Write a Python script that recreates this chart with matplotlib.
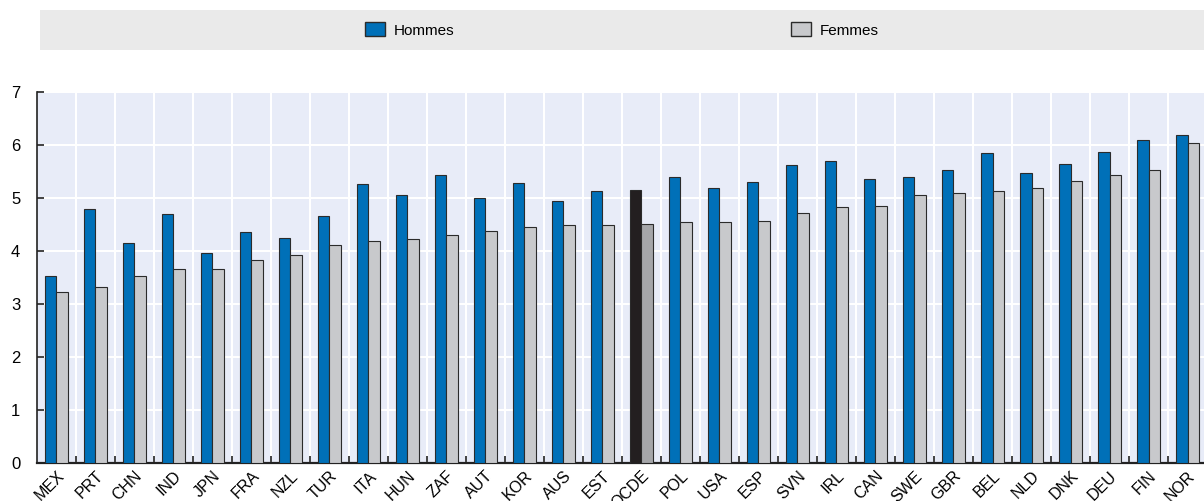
import matplotlib
matplotlib.use("Agg")
import matplotlib.pyplot as plt
from matplotlib.patches import Patch
import numpy as np

plt.rcParams['font.family'] = ['Liberation Sans Narrow', 'Liberation Sans', 'DejaVu Sans']

countries = ["MEX", "PRT", "CHN", "IND", "JPN", "FRA", "NZL", "TUR", "ITA", "HUN",
             "ZAF", "AUT", "KOR", "AUS", "EST", "OCDE", "POL", "USA", "ESP", "SVN",
             "IRL", "CAN", "SWE", "GBR", "BEL", "NLD", "DNK", "DEU", "FIN", "NOR"]
hommes = [3.53, 4.79, 4.14, 4.70, 3.96, 4.36, 4.24, 4.65, 5.26, 5.06,
          5.42, 4.99, 5.27, 4.94, 5.13, 5.14, 5.39, 5.18, 5.30, 5.61,
          5.69, 5.35, 5.39, 5.52, 5.85, 5.47, 5.64, 5.87, 6.08, 6.19]
femmes = [3.22, 3.31, 3.52, 3.65, 3.66, 3.82, 3.91, 4.11, 4.19, 4.23,
          4.30, 4.37, 4.45, 4.48, 4.48, 4.50, 4.55, 4.55, 4.57, 4.72,
          4.83, 4.84, 5.06, 5.08, 5.13, 5.18, 5.32, 5.43, 5.52, 6.03]
yticks = [0, 1, 2, 3, 4, 5, 6, 7]
highlight = "OCDE"

blue = "#0070B8"
grey = "#C8C9CC"
dark = "#231F20"
dark_grey = "#A5A6A9"
edge = "#2B2B2B"

fig = plt.figure(figsize=(12.04, 5.01), dpi=100)
ax = fig.add_axes([0.0307, 0.0764, 0.9718, 0.7405])
ax.set_facecolor("#E8ECF8")

x = np.arange(len(countries))
w = 0.29
c_h = [dark if c == highlight else blue for c in countries]
c_f = [dark_grey if c == highlight else grey for c in countries]
ax.bar(x - w / 2, hommes, w, color=c_h, edgecolor=edge, linewidth=0.8, zorder=3)
ax.bar(x + w / 2, femmes, w, color=c_f, edgecolor=edge, linewidth=0.8, zorder=3)

ax.set_xlim(-0.5, len(countries) - 0.5)
ax.set_ylim(0, 7)
ax.set_yticks(yticks)
ax.set_yticklabels([str(t) for t in yticks], fontsize=12)

# category boundaries as minor ticks, labels on the centers
ax.set_xticks(x)
ax.set_xticklabels(countries, rotation=45, ha="right", va="top",
                   rotation_mode="anchor", fontsize=11.5)
ax.tick_params(axis="x", which="major", length=0, pad=4)
ax.set_xticks(np.arange(0.5, len(countries) - 0.5, 1), minor=True)
ax.tick_params(axis="x", which="minor", direction="in", length=5, width=1.2, color="#222222")
ax.tick_params(axis="y", direction="in", length=5, width=1.2, color="#222222", pad=12)

ax.grid(True, which="minor", axis="x", color="white", linewidth=1.5, zorder=0)
ax.grid(True, which="major", axis="y", color="white", linewidth=1.5, zorder=0)
ax.set_axisbelow(True)

for s in ["top", "right"]:
    ax.spines[s].set_visible(False)
ax.spines["left"].set_color("#222222")
ax.spines["left"].set_linewidth(1.2)
ax.spines["bottom"].set_color("#222222")
ax.spines["bottom"].set_linewidth(1.6)

# legend band across the top
band = fig.add_axes([40 / 1204, 1 - 50 / 501, 1 - 40 / 1204, 40 / 501])
band.set_facecolor("#EAEAEA")
band.set_xticks([])
band.set_yticks([])
for s in band.spines.values():
    s.set_visible(False)
handles = [Patch(facecolor=blue, edgecolor=edge, label="Hommes"),
           Patch(facecolor=grey, edgecolor=edge, label="Femmes")]
band.legend(handles=handles, loc="center", ncol=2, frameon=False, fontsize=11,
            columnspacing=22, handlelength=1.3, handleheight=1.0, handletextpad=0.6)

fig.savefig("out.png", dpi=100)
